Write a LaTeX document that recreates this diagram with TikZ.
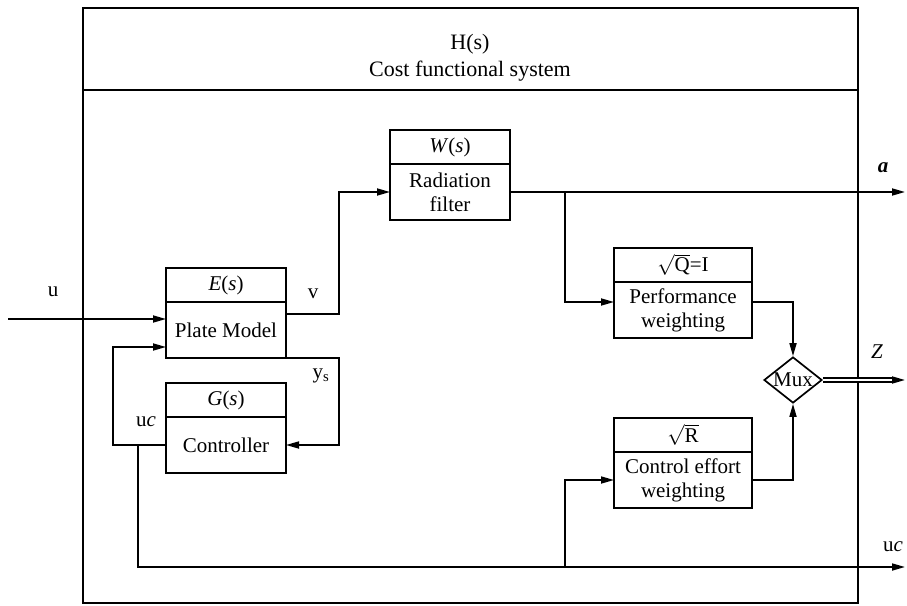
\documentclass[tikz,border=0pt]{standalone}
\usepackage{fontspec}
\setmainfont{Liberation Serif}
\usetikzlibrary{arrows.meta, calc, positioning, shapes.geometric}

\begin{document}
\begin{tikzpicture}[
        x=1pt, y=-1pt,
        every node/.style={font=\fontsize{21}{24}\selectfont},
        hdr/.style={draw, line width=1.7pt, minimum width=120pt, minimum height=34pt, inner sep=0pt, outer sep=0pt},
        blk/.style={draw, line width=1.7pt, minimum width=120pt, minimum height=56pt, inner sep=0pt, outer sep=0pt, align=center},
        wide/.style={minimum width=138pt},
        mux/.style={diamond, draw, line width=1.7pt, minimum width=58pt, minimum height=46pt, inner sep=0pt},
        sig/.style={inner sep=1pt},
        arrow/.style={line width=1.7pt, -{Triangle[length=13pt, width=7pt]}},
        wire/.style={line width=1.5pt}
    ]

    \useasboundingbox (0,0) rectangle (907,605);

    % Frame
    \node[draw, line width=1.7pt, minimum width=775pt, minimum height=82pt, anchor=north west, inner sep=0pt, outer sep=0pt] (title) at (83,8) {};
    \node[draw, line width=1.7pt, minimum width=775pt, minimum height=513pt, below=0pt of title, inner sep=0pt, outer sep=0pt] (sys) {};
    \node[align=center, font=\fontsize{22}{27}\selectfont] (htext) at (470,58) {H(s)\\Cost functional system};

    % Blocks
    \node[hdr] (plateh) at (226,285) {\textit{E}(\textit{s})};
    \node[blk, below=0pt of plateh] (plate) {Plate Model};

    \node[hdr] (ctrlh) at (226,400) {\textit{G}(\textit{s})};
    \node[blk, below=0pt of ctrlh] (ctrl) {Controller};

    \node[hdr] (radh) at (450,147) {\textit{W}(\textit{s})};
    \node[blk, below=0pt of radh] (rad) {Radiation\\filter};

    \node[hdr, wide] (perfh) at (683,265) {$\sqrt{\mbox{Q}}$=I};
    \node[blk, wide, below=0pt of perfh] (perf) {Performance\\weighting};

    \node[hdr, wide] (effh) at (683,435) {$\sqrt{\mbox{R}}$};
    \node[blk, wide, below=0pt of effh] (eff) {Control effort\\weighting};

    \node[mux, label={center:Mux}] (mux) at (793,380) {};

    % Signal ends
    \coordinate (uin) at (8,319);
    \coordinate (aout) at (905,192);
    \coordinate (zout) at (905,380);
    \coordinate (ucout) at (905,567);
    \coordinate (j1) at (565,192);
    \coordinate (j2) at (565,567);

    % Connectors
    \draw[arrow] (uin) -- (uin -| plate.west);
    \draw[arrow] ([yshift=16pt]plate.east) -- ++(53,0) |- (rad.west);
    \draw[arrow] (plate.south east) -- ++(53,0) |- (ctrl.east);
    \draw[arrow] (ctrl.west) -- ++(-53,0) |- ([yshift=-17pt]plate.west);
    \draw[arrow] ([xshift=-28pt]ctrl.west) |- (ucout);
    \draw[arrow] (rad.east) -- (aout);
    \draw[arrow] (j1) |- ([yshift=8pt]perf.west);
    \draw[arrow] (j2) |- (eff.west);
    \draw[arrow] ([yshift=8pt]perf.east) -| (mux.north);
    \draw[arrow] (eff.east) -| (mux.south);
    \draw[wire, double, double distance=2.5pt, shorten >=10pt] (mux.east) -- (zout);
    \draw[arrow] ([xshift=-12pt]zout) -- (zout);

    % Labels
    \node[sig] (ulab) at (53,292) {u};
    \node[sig] (vlab) at (313,294) {v};
    \node[sig] (yslab) at (321,376) {y\textsubscript{s}};
    \node[sig] (uclab) at (146,422) {u\textit{c}};
    \node[sig] (alab) at (883,168) {\textbf{\textit{a}}};
    \node[sig] (zlab) at (877,352) {\textit{Z}};
    \node[sig] (ucrlab) at (893,547) {u\textit{c}};

\end{tikzpicture}
\end{document}
